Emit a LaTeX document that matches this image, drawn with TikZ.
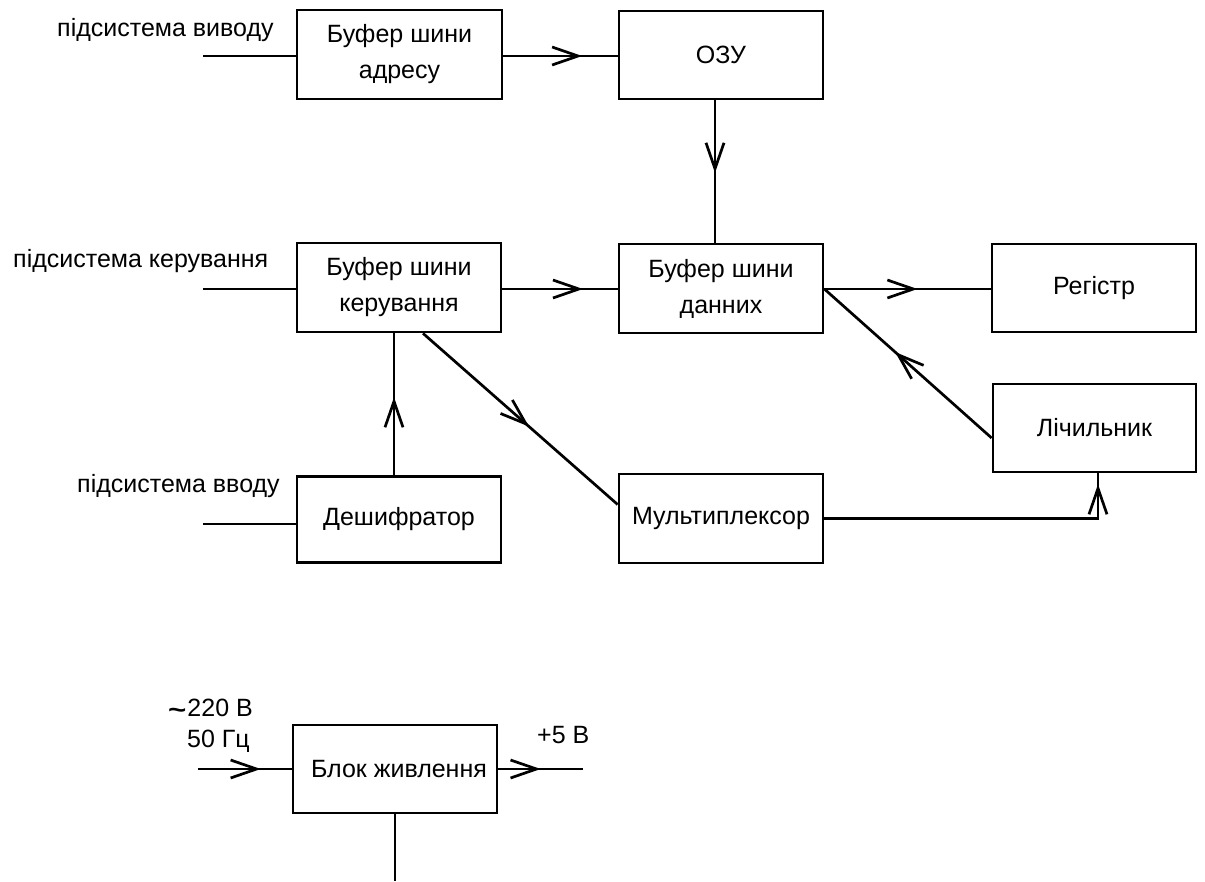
\documentclass[tikz,border=0pt]{standalone}
\usepackage{fontspec}
\usepackage{graphicx}
\setmainfont{Liberation Sans}
\usetikzlibrary{arrows.meta,decorations.markings}
\begin{document}
\begin{tikzpicture}[x=1pt,y=-1pt,
  every node/.style={font=\fontsize{25}{36}\selectfont, inner sep=0pt},
  blk/.style={draw, line width=2.7pt, minimum width=204pt, minimum height=88pt, align=center},
  conn/.style={line width=2.7pt},
  arr/.style={postaction={decorate,decoration={markings,mark=at position #1 with {\arrow{Straight Barb[length=26pt,width=18pt]}}}}}]
\useasboundingbox (0,0) rectangle (1205,881);
% blocks
\node[blk, minimum width=205pt, minimum height=89pt] (bsa) at (399.5,54.5) {Буфер шини\\адресу};
\node[blk, minimum width=204pt, minimum height=88pt] (ozu) at (721,55) {ОЗУ};
\node[blk, minimum height=89pt] (bsk) at (399,287.5) {Буфер шини\\керування};
\node[blk, minimum height=89pt] (bsd) at (721,288.5) {Буфер шини\\данних};
\node[blk] (reg) at (1094,288) {Регістр};
\node[blk, minimum width=203pt] (lich) at (1094.5,428) {Лічильник};
\node[blk, minimum height=86pt] (desh) at (399,519.5) {Дешифратор};
\node[blk, minimum height=89pt] (mux) at (721,518.5) {Мультиплексор};
\node[blk] (pwr) at (395,769) {\hspace*{8pt}Блок живлення};
% labels
\node[anchor=base west] (l1) at (57,36) {підсистема виводу};
\node[anchor=base west] (l2) at (13,267) {підсистема керування};
\node[anchor=base west] (l3) at (77,492) {підсистема вводу};
\node[anchor=base west] (l4) at (168,716) {\raisebox{-2pt}{\scalebox{1.25}[1.0]{\bfseries\char"007E}}\kern1pt 220 В};
\node[anchor=base west] (l5) at (187,747) {50 Гц};
\node[anchor=base west] (l6) at (537,743) {+5 В};
% connectors
\coordinate (i1) at (203,56);
\draw[conn] (i1) -- (i1 -| bsa.west);
\draw[conn, arr=0.69] (i1 -| bsa.east) -- (i1 -| ozu.west);
\draw[conn, arr=0.51] ([xshift=-6pt]ozu.south) -- ([xshift=-6pt]ozu.south |- bsd.north);
\coordinate (i2) at (203,289);
\draw[conn] (i2) -- (i2 -| bsk.west);
\draw[conn, arr=0.70] (i2 -| bsk.east) -- (i2 -| bsd.west);
\draw[conn, arr=0.56] (i2 -| bsd.east) -- (i2 -| reg.west);
\draw[conn, arr=0.577] ([yshift=-10pt]lich.west) -- (i2 -| bsd.east);
\draw[conn, arr=0.545] ([xshift=24pt]bsk.south) -- ([yshift=14pt]mux.west);
\draw[conn, arr=0.55] ([xshift=-5pt]desh.north) -- ([xshift=-5pt]bsk.south);
\coordinate (i3) at (203,524);
\draw[conn] (i3) -- (i3 -| desh.west);
\draw[conn, arr=0.966] (mux.east) -| ([xshift=3.5pt]lich.south);
\coordinate (pin) at (198,769);
\draw[conn, arr=0.67] (pin) -- (pin -| pwr.west);
\coordinate (pout) at (583,769);
\draw[conn, arr=0.5] (pwr.east) -- (pout);
\coordinate (pdown) at (395,881);
\draw[conn] (pwr.south) -- (pdown);
\end{tikzpicture}
\end{document}
